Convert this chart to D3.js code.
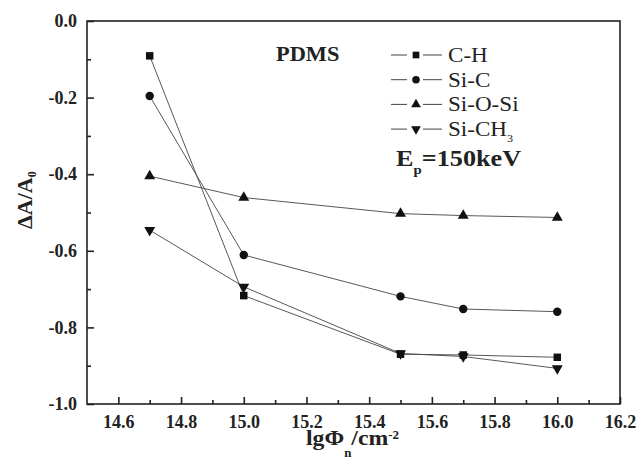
<!DOCTYPE html>
<html>
<head>
<meta charset="utf-8">
<script src="https://cdn.jsdelivr.net/npm/d3@7"></script>
<style>
  body { margin: 0; background: #fff; }
</style>
</head>
<body>
<svg id="chart" width="640" height="465"></svg>
<script>
// data
const fluence = [14.7, 15.0, 15.5, 15.7, 16.0];
const seriesNames = ["C-H", "Si-C", "Si-O-Si", "Si-CH3"];
const cH = [-0.091, -0.717, -0.870, -0.872, -0.878];
const siC = [-0.196, -0.611, -0.719, -0.752, -0.759];
const siOSi = [-0.405, -0.461, -0.503, -0.508, -0.513];
const siCH3 = [-0.546, -0.694, -0.868, -0.876, -0.907];
const xMajor = [14.6, 14.8, 15.0, 15.2, 15.4, 15.6, 15.8, 16.0, 16.2];
const xMinor = [14.7, 14.9, 15.1, 15.3, 15.5, 15.7, 15.9, 16.1];
const yMajor = [0.0, -0.2, -0.4, -0.6, -0.8, -1.0];
const yMinor = [-0.1, -0.3, -0.5, -0.7, -0.9];

const FONT = "Liberation Serif";

const series = [
  { name: seriesNames[0], values: cH, sym: d3.symbolSquare, size: 56 },
  { name: seriesNames[1], values: siC, sym: d3.symbolCircle, size: 56 },
  { name: seriesNames[2], values: siOSi, sym: d3.symbolTriangle, size: 52, rot: 0 },
  { name: seriesNames[3], values: siCH3, sym: d3.symbolTriangle, size: 52, rot: 180 }
];

const svg = d3.select("#chart");
const margin = { left: 87, top: 21, right: 20, bottom: 61 };
const width = 640 - margin.left - margin.right,
      height = 465 - margin.top - margin.bottom;

const x = d3.scaleLinear().domain([14.5, 16.2]).range([0, width]);
const y = d3.scaleLinear().domain([-1.0, 0.0]).range([height, 0]);

const g = svg.append("g").attr("transform", `translate(${margin.left},${margin.top})`);

// frame
g.append("rect")
  .attr("width", width).attr("height", height)
  .attr("fill", "none").attr("stroke", "#222").attr("stroke-width", 1.6);

// bottom axis, ticks inward
const xAxis = g.append("g").attr("transform", `translate(0,${height})`)
  .call(d3.axisBottom(x).tickValues(xMajor).tickSize(-7).tickPadding(11)
    .tickFormat(d3.format(".1f")));
xAxis.select(".domain").remove();
xAxis.selectAll(".tick line").attr("stroke", "#222").attr("stroke-width", 1.6);
xAxis.selectAll("text").attr("font-family", FONT).attr("font-size", 18).attr("font-weight", "bold")
  .attr("fill", "#222");
g.append("g").attr("transform", `translate(0,${height})`)
  .call(d3.axisBottom(x).tickValues(xMinor).tickSize(-4).tickFormat(""))
  .call(a => a.select(".domain").remove())
  .selectAll("line").attr("stroke", "#222").attr("stroke-width", 1.6);

// left axis, ticks inward
const yAxis = g.append("g")
  .call(d3.axisLeft(y).tickValues(yMajor).tickSize(-7).tickPadding(10)
    .tickFormat(d3.format(".1f")));
yAxis.select(".domain").remove();
yAxis.selectAll(".tick line").attr("stroke", "#222").attr("stroke-width", 1.6);
yAxis.selectAll("text").attr("font-family", FONT).attr("font-size", 18).attr("font-weight", "bold")
  .attr("fill", "#222")
  .text(d => d3.format(".1f")(d).replace("−", "-"));
g.append("g")
  .call(d3.axisLeft(y).tickValues(yMinor).tickSize(-4).tickFormat(""))
  .call(a => a.select(".domain").remove())
  .selectAll("line").attr("stroke", "#222").attr("stroke-width", 1.6);

// lines and markers
const line = d3.line().x((d, i) => x(fluence[i])).y(d => y(d));
series.forEach(s => {
  g.append("path").datum(s.values)
    .attr("d", line).attr("fill", "none")
    .attr("stroke", "#444").attr("stroke-width", 0.9);
});
series.forEach(s => {
  g.selectAll(null).data(s.values).enter().append("path")
    .attr("d", d3.symbol().type(s.sym).size(s.size))
    .attr("transform", (d, i) => `translate(${x(fluence[i])},${y(d)}) rotate(${s.rot || 0})`)
    .attr("fill", "#111");
});

// text helper: the original lettering is a bit wider than Liberation Serif
function label(parent, px, py, sx) {
  return parent.append("text")
    .attr("transform", `translate(${px},${py}) scale(${sx},1)`)
    .attr("font-family", FONT).attr("fill", "#222");
}

// annotation
label(g, 189, 40, 1.12).attr("font-size", 20).attr("font-weight", "bold").text("PDMS");

// legend
const legend = g.append("g");
series.forEach((s, i) => {
  const ly = 34 + i * 24.7;
  const row = legend.append("g").attr("transform", `translate(0,${ly})`);
  row.append("line").attr("x1", 304).attr("x2", 320).attr("y1", 0).attr("y2", 0)
    .attr("stroke", "#444").attr("stroke-width", 1);
  row.append("line").attr("x1", 336).attr("x2", 355).attr("y1", 0).attr("y2", 0)
    .attr("stroke", "#444").attr("stroke-width", 1);
  row.append("path").attr("d", d3.symbol().type(s.sym).size(s.size * 0.8))
    .attr("transform", `translate(329,0) rotate(${s.rot || 0})`).attr("fill", "#111");
  const t = label(row, 361, 7, 1.1).attr("font-size", 21);
  if (s.name === "Si-CH3") {
    t.text("Si-CH");
    t.append("tspan").attr("font-size", 11).attr("dy", 6).text("3");
  } else {
    t.text(s.name);
  }
});

const ep = label(g, 309, 145, 1.14).attr("font-size", 23).attr("font-weight", "bold");
ep.append("tspan").text("E");
ep.append("tspan").attr("font-size", 13).attr("dy", 8).text("p");
ep.append("tspan").attr("dy", -8).text("=150keV");

// axis titles
const xt = label(svg, 306, 445, 1.08).attr("font-size", 22).attr("font-weight", "bold");
xt.append("tspan").text("lgΦ");
xt.append("tspan").attr("font-size", 12).attr("dy", 12).text("n");
xt.append("tspan").attr("dy", -12).text("/cm");
xt.append("tspan").attr("font-size", 12).attr("dy", -6).text("-2");

const yt = svg.append("text").attr("font-family", FONT)
  .attr("transform", "translate(32,229) rotate(-90)")
  .attr("font-size", 22).attr("font-weight", "bold")
  .attr("fill", "#222");
yt.append("tspan").text("ΔA/A");
yt.append("tspan").attr("font-size", 12).attr("dy", 4).text("0");
</script>
</body>
</html>
